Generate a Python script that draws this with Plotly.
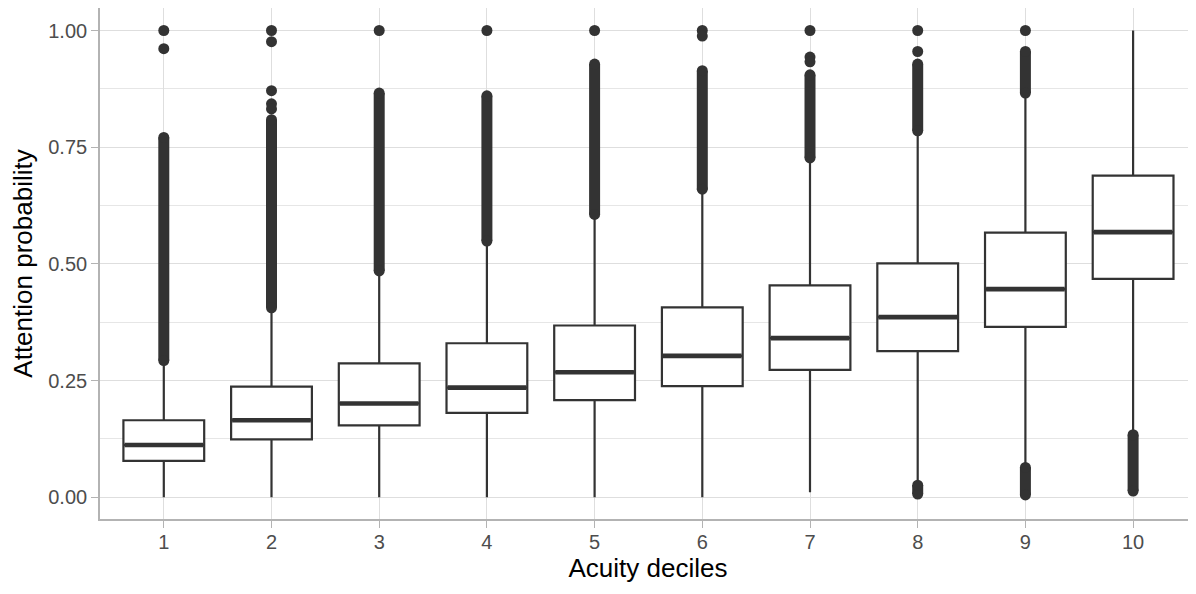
import plotly.graph_objects as go

# ---- data ----
deciles = [1, 2, 3, 4, 5, 6, 7, 8, 9, 10]
q1 = [0.078, 0.124, 0.154, 0.181, 0.208, 0.238, 0.273, 0.313, 0.365, 0.468]
median = [0.112, 0.165, 0.201, 0.235, 0.268, 0.303, 0.341, 0.386, 0.446, 0.568]
q3 = [0.165, 0.237, 0.287, 0.330, 0.368, 0.407, 0.454, 0.501, 0.567, 0.689]
lower_whisker = [0.0, 0.0, 0.0, 0.0, 0.0, 0.0, 0.011, 0.031, 0.068, 0.138]
upper_whisker = [0.29, 0.40, 0.48, 0.545, 0.60, 0.655, 0.72, 0.78, 0.862, 1.0]

# dense runs of outliers (overlapping points) : lowest / highest value per decile
upper_run_low = [0.293, 0.406, 0.485, 0.549, 0.606, 0.660, 0.727, 0.785, 0.866, None]
upper_run_high = [0.771, 0.809, 0.866, 0.860, 0.928, 0.914, 0.905, 0.928, 0.955, None]
lower_run_low = [None, None, None, None, None, None, None, 0.007, 0.005, 0.0135]
lower_run_high = [None, None, None, None, None, None, None, 0.026, 0.064, 0.134]

# isolated outliers
outlier_decile = [1, 1, 2, 2, 2, 2, 2, 3, 4, 5, 6, 6, 7, 7, 7, 8, 8, 9]
outlier_value = [1.00, 0.961, 1.00, 0.976, 0.871, 0.843, 0.832, 1.00, 1.00, 1.00,
                 1.00, 0.988, 1.00, 0.943, 0.933, 1.00, 0.955, 1.00]

y_tick_vals = [0.0, 0.25, 0.5, 0.75, 1.0]
y_tick_text = ["0.00", "0.25", "0.50", "0.75", "1.00"]

# ---- styles ----
DARK = "#333333"
GRID = "#DEDEDE"
BORDER = "#B3B3B3"
FONT = "Liberation Sans, Arial, Helvetica, sans-serif"
BOX_W = 0.75
MARK = 11

fig = go.Figure()

# outlier runs drawn as thick segments with round ends (markers)
def add_runs(lows, highs):
    xs, ys = [], []
    for d, lo, hi in zip(deciles, lows, highs):
        if lo is None:
            continue
        xs += [d, d, None]
        ys += [lo, hi, None]
    fig.add_trace(go.Scatter(x=xs, y=ys, mode="lines+markers",
                             line=dict(color=DARK, width=MARK),
                             marker=dict(color=DARK, size=MARK),
                             hoverinfo="skip", showlegend=False))

add_runs(upper_run_low, upper_run_high)
add_runs(lower_run_low, lower_run_high)

fig.add_trace(go.Scatter(x=outlier_decile, y=outlier_value, mode="markers",
                         marker=dict(color=DARK, size=MARK),
                         showlegend=False))

fig.add_trace(go.Box(x=deciles, q1=q1, median=median, q3=q3,
                     lowerfence=lower_whisker, upperfence=upper_whisker,
                     width=BOX_W, whiskerwidth=0, boxpoints=False,
                     fillcolor="white", line=dict(color=DARK, width=2.2),
                     showlegend=False))

# thick median bars
mx, my = [], []
for d, m in zip(deciles, median):
    mx += [d - BOX_W / 2 + 0.01, d + BOX_W / 2 - 0.01, None]
    my += [m, m, None]
fig.add_trace(go.Scatter(x=mx, y=my, mode="lines",
                         line=dict(color=DARK, width=4.6),
                         hoverinfo="skip", showlegend=False))

# page body keeps an 8px margin, so the figure is 8px smaller each way
fig.update_layout(
    width=1188, height=586,
    margin=dict(l=92, r=0, t=0, b=75),
    paper_bgcolor="white", plot_bgcolor="white",
    font=dict(family=FONT, color="#4D4D4D", size=20),
    showlegend=False,
    xaxis=dict(range=[0.4076, 10.584], tickvals=deciles,
               ticktext=[str(d) for d in deciles], automargin=False,
               showgrid=True, gridcolor=GRID, gridwidth=1.3,
               zeroline=False, showline=True, linecolor=BORDER, linewidth=1.6,
               mirror=True, ticks="outside", ticklen=7, tickcolor=BORDER,
               tickwidth=1.3, tickfont=dict(size=20, color="#4D4D4D"),
               ticklabelstandoff=-3,
               title=dict(text="Acuity deciles", standoff=4,
                          font=dict(size=26, color="black"))),
    yaxis=dict(range=[-0.0465, 1.0482], tickvals=y_tick_vals,
               ticktext=y_tick_text, automargin=False,
               showgrid=True, gridcolor=GRID, gridwidth=1.3,
               minor=dict(tickvals=[0.125, 0.375, 0.625, 0.875], showgrid=True,
                          gridcolor="#E6E6E6", gridwidth=0.8, ticks=""),
               zeroline=False, showline=True, linecolor=BORDER, linewidth=1.6,
               ticks="outside", ticklen=7, tickcolor=BORDER, tickwidth=1.3,
               tickfont=dict(size=20, color="#4D4D4D"),
               title=dict(text="Attention probability", standoff=9,
                          font=dict(size=26, color="black"))),
)

fig.write_html("out.html")
